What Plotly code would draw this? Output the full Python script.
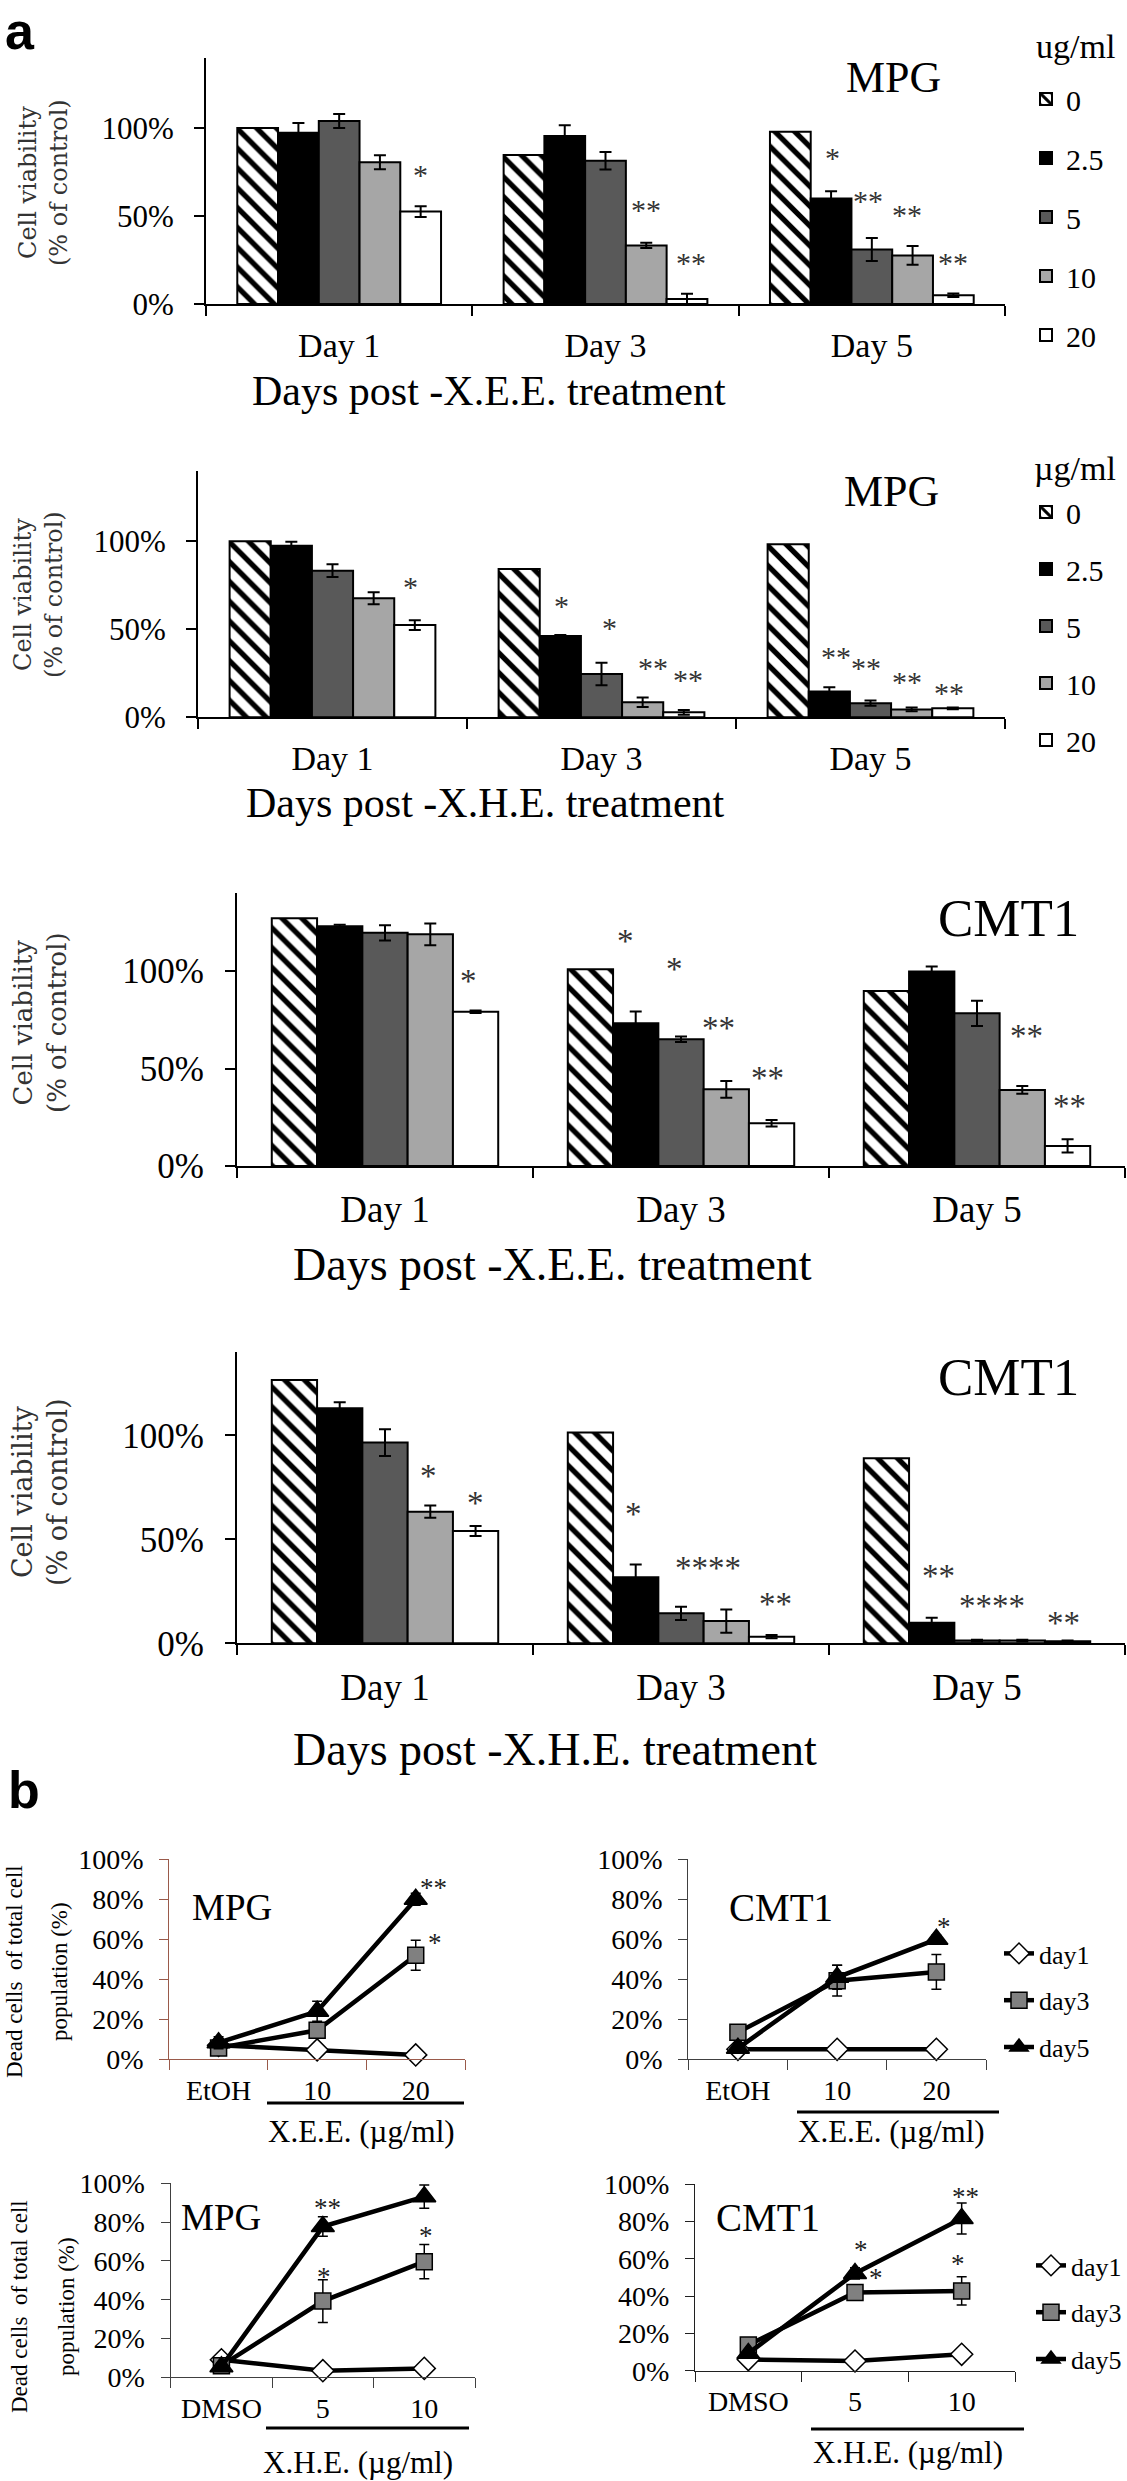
import plotly.graph_objects as go

W, H = 1127, 2481

# ---------------- data: panel a (cell viability, % of control) ----------------
days = ["Day 1", "Day 3", "Day 5"]
doses = ["0", "2.5", "5", "10", "20"]

# one list per dose (0, 2.5, 5, 10, 20 ug/ml) across Day 1, Day 3, Day 5
a1_vals = [[100, 84.7, 97.9], [97.3, 95.5, 60], [104, 81.4, 31], [80.5, 33.3, 27.6], [52.5, 2.8, 5]]
a1_errs = [[0, 0, 0], [5.5, 6, 4], [4, 5, 6.5], [4, 1.5, 5.3], [3, 3, 1]]

a2_vals = [[100, 84.3, 98.3], [97.5, 46.2, 14.6], [83.3, 24.6, 8], [67.6, 8.5, 4.5], [52.4, 2.8, 5.1]]
a2_errs = [[0, 0, 0], [2.3, 0.5, 2.5], [3.6, 6.4, 1.5], [3.4, 2.7, 1], [2.8, 1.3, 0.5]]

a3_vals = [[127, 100.9, 89.7], [123, 73.2, 99.7], [119.6, 65, 78.3], [118.8, 39.3, 39], [79.1, 21.9, 10.3]]
a3_errs = [[0, 0, 0], [0.7, 6, 2.6], [3.9, 1.4, 6.5], [5.6, 4.3, 2], [0.7, 1.7, 3.4]]

a4_vals = [[126.6, 101.4, 89], [113, 31.7, 9.9], [96.5, 14.4, 1.3], [63.3, 10.7, 1.3], [54, 3.2, 1]]
a4_errs = [[0, 0, 0], [2.9, 6.2, 2.4], [6.4, 3.2, 0.4], [2.9, 5.6, 0.4], [2.4, 0.8, 0.3]]

a_ticks = [0, 50, 100]
a_ticktext = ["0%", "50%", "100%"]

# significance marks: (day index, bar index, height in %, text)
a1_star_day = [0, 1, 1, 2, 2, 2, 2]
a1_star_bar = [4.0, 3.0, 4.1, 1.03, 1.9, 2.87, 4.0]
a1_star_y = [77, 57, 27, 86.5, 62, 54.5, 27]
a1_star_txt = ["*", "**", "**", "*", "**", "**", "**"]

a2_star_day = [0, 1, 1, 1, 1, 2, 2, 2, 2]
a2_star_bar = [3.9, 1.04, 2.2, 3.26, 4.1, 1.17, 1.88, 2.88, 3.9]
a2_star_y = [78, 66.7, 54.3, 31.6, 25, 38, 31.6, 24, 17.4]
a2_star_txt = ["*", "*", "*", "**", "**", "**", "**", "**", "**"]

a3_star_day = [0, 1, 1, 1, 1, 2, 2]
a3_star_bar = [3.84, 0.77, 1.85, 2.83, 3.9, 3.1, 4.04]
a3_star_y = [98, 118.5, 104, 74, 48.4, 69.7, 33.8]
a3_star_txt = ["*", "*", "*", "**", "**", "**", "**"]

a4_star_day = [0, 0, 1, 1, 1, 2, 2, 2]
a4_star_bar = [2.96, 4.0, 0.95, 2.6, 4.08, 1.14, 2.33, 3.9]
a4_star_y = [83.3, 70.5, 65, 39.2, 21.6, 35.2, 20.8, 12.8]
a4_star_txt = ["*", "*", "*", "****", "**", "**", "****", "**"]

# ---------------- data: panel b (dead cells, % of total) ----------------
series = ["day1", "day3", "day5"]
b_xee_cats = ["EtOH", "10", "20"]
b_xhe_cats = ["DMSO", "5", "10"]
b_ticks = [0, 20, 40, 60, 80, 100]
b_ticktext = ["0%", "20%", "40%", "60%", "80%", "100%"]

b1_vals = [[7, 4.7, 2.2], [5.7, 14.5, 52], [8.3, 24, 80]]
b1_errs = [[0, 0, 0], [1, 2, 7.5], [3, 5, 3]]
b2_vals = [[5, 5, 5], [13.5, 39.3, 43.7], [5.5, 41, 60]]
b2_errs = [[0, 0, 0], [1, 7.7, 8.7], [2, 6, 2]]
b3_vals = [[9, 3.4, 4.6], [6, 39.3, 59.6], [5.5, 77.7, 93.1]]
b3_errs = [[0, 0, 0], [2, 11, 8.8], [2, 5, 6]]
b4_vals = [[6, 5.2, 8.8], [13.8, 42, 42.8], [9.3, 52.2, 81.7]]
b4_errs = [[0, 0, 0], [2, 3, 7.6], [2, 3, 8.3]]

b1_star_x = [2.18, 2.2]
b1_star_y = [88.3, 60.5]
b1_star_txt = ["**", "*"]
b2_star_x = [2.08]
b2_star_y = [68.8]
b2_star_txt = ["*"]
b3_star_x = [1.05, 2.09, 1.01, 2.02]
b3_star_y = [89.7, 110, 54.4, 75.4]
b3_star_txt = ["**", "**", "*", "*"]
b4_star_x = [2.04, 1.06, 1.2, 1.97]
b4_star_y = [96, 67.5, 52.6, 59.8]
b4_star_txt = ["**", "*", "*", "*"]

# ---------------- styling ----------------
SERIF = "Liberation Serif"
BARGAP = 0.235
bar_colors = ["white", "black", "#595959", "#a6a6a6", "white"]


def xdom(p0, p1):
    return [p0 / W, p1 / W]


def ydom(top, bottom):
    return [1 - bottom / H, 1 - top / H]


def px(x):
    return x / W


def py(y):
    return 1 - y / H


def text_at(text, x, y, size, family=SERIF, color="black", angle=0):
    return dict(text=text, x=px(x), y=py(y), xref="paper", yref="paper", xanchor="center", yanchor="middle",
                showarrow=False, textangle=angle, font=dict(family=family, size=size, color=color))


fig = go.Figure()
annotations = []
shapes = []

a_panels = [
    dict(vals=a1_vals, errs=a1_errs, x0=206, x1=1005, y0=304, y100=128, title="MPG", tpos=(893, 77), tsize=44,
         xt="Days post -X.E.E. treatment", xtpos=(489, 391), xtsize=42, ytpos=(43, 183), ytsize=24,
         tick=31, day=34, legend="legend", ltitle="ug/ml", ltpos=(1075, 47),
         sd=a1_star_day, sb=a1_star_bar, sy=a1_star_y, st=a1_star_txt, ss=30),
    dict(vals=a2_vals, errs=a2_errs, x0=198, x1=1005, y0=717.3, y100=541.3, title="MPG", tpos=(891, 492), tsize=44,
         xt="Days post -X.H.E. treatment", xtpos=(485, 803), xtsize=42, ytpos=(38, 595), ytsize=24,
         tick=31, day=34, legend="legend2", ltitle="µg/ml", ltpos=(1075, 468),
         sd=a2_star_day, sb=a2_star_bar, sy=a2_star_y, st=a2_star_txt, ss=30),
    dict(vals=a3_vals, errs=a3_errs, x0=237, x1=1125, y0=1166, y100=971, title="CMT1", tpos=(1008, 918), tsize=53,
         xt="Days post -X.E.E. treatment", xtpos=(552, 1264), xtsize=46, ytpos=(40, 1023), ytsize=26,
         tick=35, day=37, legend=None, ltitle=None, ltpos=None,
         sd=a3_star_day, sb=a3_star_bar, sy=a3_star_y, st=a3_star_txt, ss=33),
    dict(vals=a4_vals, errs=a4_errs, x0=237, x1=1125, y0=1643.3, y100=1435.3, title="CMT1", tpos=(1008, 1377), tsize=53,
         xt="Days post -X.H.E. treatment", xtpos=(555, 1749), xtsize=46, ytpos=(40, 1492), ytsize=27,
         tick=35, day=37, legend=None, ltitle=None, ltpos=None,
         sd=a4_star_day, sb=a4_star_bar, sy=a4_star_y, st=a4_star_txt, ss=33),
]

layout_axes = {}
barw = (1 - BARGAP) / 5

for k, p in enumerate(a_panels):
    n = k + 1
    xa = "x" if n == 1 else f"x{n}"
    ya = "y" if n == 1 else f"y{n}"
    for i, d in enumerate(doses):
        marker = dict(color=bar_colors[i], line=dict(color="black", width=2))
        if i == 0:
            marker["pattern"] = dict(shape="\\", fgcolor="black", bgcolor="white", size=14, solidity=0.38,
                                     fillmode="replace")
        tr = go.Bar(
            x=days, y=p["vals"][i], name=d, marker=marker, xaxis=xa, yaxis=ya,
            error_y=dict(type="data", array=p["errs"][i], visible=(i > 0), color="black", thickness=2, width=6),
            showlegend=p["legend"] is not None, legendgroup=f"a{n}_{i}",
        )
        if p["legend"] is not None:
            tr.legend = p["legend"]
        fig.add_trace(tr)
    top = p["y0"] - 1.4 * (p["y0"] - p["y100"])
    layout_axes["xaxis" if n == 1 else f"xaxis{n}"] = dict(
        domain=xdom(p["x0"], p["x1"]), anchor=ya, type="category", range=[-0.5, 2.5],
        showline=True, linecolor="black", linewidth=2, ticks="outside", tickson="boundaries",
        ticklen=10, tickwidth=2, tickcolor="black", showgrid=False, zeroline=False,
        tickfont=dict(family=SERIF, size=p["day"], color="black"), ticklabelstandoff=10, automargin=False)
    layout_axes["yaxis" if n == 1 else f"yaxis{n}"] = dict(
        domain=ydom(top, p["y0"]), anchor=xa, range=[0, 140], tickvals=a_ticks, ticktext=a_ticktext,
        showline=True, linecolor="black", linewidth=2, ticks="outside", ticklen=10, tickwidth=2,
        tickcolor="black", showgrid=False, zeroline=False,
        tickfont=dict(family=SERIF, size=p["tick"], color="black"), ticklabelstandoff=14, automargin=False)
    annotations.append(text_at(p["title"], p["tpos"][0], p["tpos"][1], p["tsize"]))
    annotations.append(text_at(p["xt"], p["xtpos"][0], p["xtpos"][1], p["xtsize"]))
    annotations.append(text_at("Cell viability<br>(% of control)", p["ytpos"][0], p["ytpos"][1], p["ytsize"],
                               family="DejaVu Serif", color="#333333", angle=-90))
    if p["ltitle"] is not None:
        annotations.append(text_at(p["ltitle"], p["ltpos"][0], p["ltpos"][1], 34))
    for dd, bb, yy, tt in zip(p["sd"], p["sb"], p["sy"], p["st"]):
        annotations.append(dict(text=tt, x=dd + (bb - 2) * barw, y=yy, xref=xa, yref=ya, showarrow=False,
                                xanchor="center", yanchor="middle", yshift=-6,
                                font=dict(family=SERIF, size=p["ss"], color="#333333")))

# ---------------- panel b ----------------
sym = ["diamond", "square", "triangle-up"]
fills = ["white", "#808080", "black"]
msize = [17, 16, 20]

b_panels = [
    dict(vals=b1_vals, errs=b1_errs, cats=b_xee_cats, x0=169.3, x1=465, y0=2059.3, y100=1859.3,
         axcol="#9a5a4a", title="MPG", tpos=(232, 1907), tsize=37, legend=None,
         xt="X.E.E. (µg/ml)", xtpos=(361, 2131), uline=(267, 464, 2103),
         sx=b1_star_x, sy=b1_star_y, st=b1_star_txt, ytpos=(14, 59, 1972)),
    dict(vals=b2_vals, errs=b2_errs, cats=b_xee_cats, x0=688.3, x1=986, y0=2059.3, y100=1859.3,
         axcol="#404040", title="CMT1", tpos=(781, 1907), tsize=39, legend="legend3",
         xt="X.E.E. (µg/ml)", xtpos=(891, 2131), uline=(797, 999, 2112),
         sx=b2_star_x, sy=b2_star_y, st=b2_star_txt, ytpos=None),
    dict(vals=b3_vals, errs=b3_errs, cats=b_xhe_cats, x0=170.7, x1=475, y0=2377.3, y100=2183.3,
         axcol="#404040", title="MPG", tpos=(221, 2217), tsize=37, legend=None,
         xt="X.H.E. (µg/ml)", xtpos=(358, 2462), uline=(266, 469, 2428),
         sx=b3_star_x, sy=b3_star_y, st=b3_star_txt, ytpos=(19, 66, 2307)),
    dict(vals=b4_vals, errs=b4_errs, cats=b_xhe_cats, x0=695, x1=1015, y0=2370.7, y100=2184.3,
         axcol="#202020", title="CMT1", tpos=(768, 2217), tsize=39, legend="legend4",
         xt="X.H.E. (µg/ml)", xtpos=(908, 2452), uline=(811, 1024, 2429),
         sx=b4_star_x, sy=b4_star_y, st=b4_star_txt, ytpos=None),
]

for k, p in enumerate(b_panels):
    n = k + 5
    xa, ya = f"x{n}", f"y{n}"
    for i, s in enumerate(series):
        tr = go.Scatter(
            x=p["cats"], y=p["vals"][i], name=s, mode="lines+markers", xaxis=xa, yaxis=ya,
            line=dict(color="black", width=4.5),
            marker=dict(symbol=sym[i], size=msize[i], color=fills[i], line=dict(color="black", width=1.5)),
            error_y=dict(type="data", array=p["errs"][i], visible=(i > 0), color="black", thickness=1.5, width=5),
            showlegend=p["legend"] is not None, legendgroup=f"b{n}_{i}", cliponaxis=False,
        )
        if p["legend"] is not None:
            tr.legend = p["legend"]
        fig.add_trace(tr)
    layout_axes[f"xaxis{n}"] = dict(
        domain=xdom(p["x0"], p["x1"]), anchor=ya, type="category", range=[-0.5, 2.5],
        showline=True, linecolor=p["axcol"], linewidth=1.3, ticks="outside", tickson="boundaries",
        ticklen=10, tickwidth=1.3, tickcolor=p["axcol"], showgrid=False, zeroline=False,
        tickfont=dict(family=SERIF, size=28, color="black"), ticklabelstandoff=6, automargin=False)
    layout_axes[f"yaxis{n}"] = dict(
        domain=ydom(p["y100"], p["y0"]), anchor=xa, range=[0, 100], tickvals=b_ticks, ticktext=b_ticktext,
        showline=True, linecolor=p["axcol"], linewidth=1.3, ticks="outside", ticklen=9, tickwidth=1.3,
        tickcolor=p["axcol"], showgrid=False, zeroline=False,
        tickfont=dict(family=SERIF, size=28, color="black"), ticklabelstandoff=10, automargin=False)
    annotations.append(text_at(p["title"], p["tpos"][0], p["tpos"][1], p["tsize"]))
    annotations.append(text_at(p["xt"], p["xtpos"][0], p["xtpos"][1], 31))
    u0, u1, uy = p["uline"]
    shapes.append(dict(type="line", xref="paper", yref="paper", x0=px(u0), x1=px(u1), y0=py(uy), y1=py(uy),
                       line=dict(color="black", width=3)))
    for xx, yy, tt in zip(p["sx"], p["sy"], p["st"]):
        annotations.append(dict(text=tt, x=xx, y=yy, xref=xa, yref=ya, showarrow=False, yshift=-5,
                                xanchor="center", yanchor="middle",
                                font=dict(family=SERIF, size=27, color="#222222")))
    if p["ytpos"] is not None:
        l1, l2, cy = p["ytpos"]
        annotations.append(text_at("Dead cells  of total cell", l1, cy, 23, angle=-90))
        annotations.append(text_at("population (%)", l2, cy, 23, angle=-90))

# panel letters
annotations.append(text_at("<b>a</b>", 20, 31, 52, family="Liberation Sans"))
annotations.append(text_at("<b>b</b>", 24, 1790, 52, family="Liberation Sans"))

leg_common = dict(bgcolor="rgba(0,0,0,0)", borderwidth=0, traceorder="grouped", xanchor="left", yanchor="top",
                  xref="paper", yref="paper")

fig.update_layout(
    width=W, height=H, margin=dict(l=0, r=0, t=0, b=0, autoexpand=False),
    paper_bgcolor="white", plot_bgcolor="white",
    barmode="group", bargap=BARGAP, bargroupgap=0,
    font=dict(family=SERIF, color="black"),
    annotations=annotations, shapes=shapes,
    legend=dict(x=px(1026), y=py(73), tracegroupgap=17, font=dict(family=SERIF, size=30), **leg_common),
    legend2=dict(x=px(1026), y=py(486), tracegroupgap=15, font=dict(family=SERIF, size=30), **leg_common),
    legend3=dict(x=px(999), y=py(1930), tracegroupgap=10, font=dict(family=SERIF, size=26), **leg_common),
    legend4=dict(x=px(1031), y=py(2242), tracegroupgap=10, font=dict(family=SERIF, size=26), **leg_common),
    **layout_axes,
)

fig.write_html("out.html", config={"displayModeBar": False},
               post_script="document.body.style.margin='0';")
